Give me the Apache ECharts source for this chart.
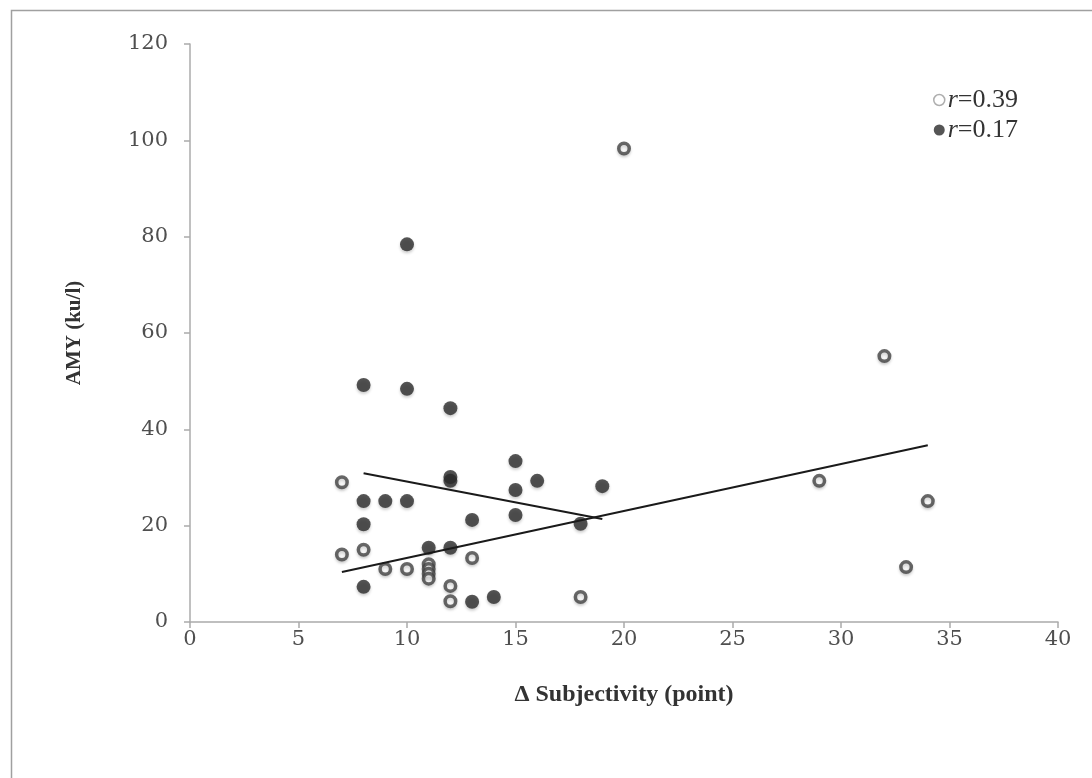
<!DOCTYPE html>
<html>
<head>
<meta charset="utf-8">
<script src="https://cdn.jsdelivr.net/npm/echarts@6/dist/echarts.min.js"></script>
<style>html,body{margin:0;padding:0;background:#fff}#c{width:1092px;height:778px}</style>
</head>
<body>
<div id="c"></div>
<script>
// Open circles group (r=0.39)
const openX = [7, 7, 8, 9, 10, 11, 11, 11, 11, 12, 12, 13, 18, 20, 29, 32, 33, 34];
const openY = [29, 14, 15, 11, 11, 12, 11, 10, 9, 7.5, 4.3, 13.3, 5.2, 98.3, 29.3, 55.2, 11.4, 25.1];
// Filled circles group (r=0.17)
const filledX = [8, 8, 8, 8, 9, 10, 10, 10, 11, 12, 12, 12, 12, 13, 13, 14, 15, 15, 15, 16, 18, 19];
const filledY = [25.1, 20.3, 7.3, 49.2, 25.1, 25.1, 78.4, 48.4, 15.4, 15.4, 44.4, 30.1, 29.3, 21.2, 4.2, 5.2, 33.4, 27.4, 22.2, 29.3, 20.4, 28.2];
// Trend lines: [x, y] endpoints
const openTrend = [[7, 10.4], [34, 36.7]];
const filledTrend = [[8, 30.9], [19, 21.4]];
const xTicks = [0, 5, 10, 15, 20, 25, 30, 35, 40];
const yTicks = [0, 20, 40, 60, 80, 100, 120];
const legendNames = ['r=0.39', 'r=0.17'];

const zip = (a, b) => a.map((v, i) => [v, b[i]]);
const chart = echarts.init(document.getElementById('c'));
const axisCol = '#ababab';
const tickFont = {fontFamily: 'DejaVu Serif', fontSize: 21, color: '#4f4f4f'};
chart.setOption({
  animation: false,
  backgroundColor: '#fff',
  graphic: [{
    type: 'rect', left: 9, top: 8, shape: {width: 1200, height: 900},
    style: {fill: 'none', stroke: '#a0a0a0', lineWidth: 1.5}, silent: true
  }],
  grid: {left: 190, right: 34, top: 44, bottom: 156},
  legend: {
    orient: 'vertical', left: 928, top: 82, itemGap: 4,
    itemWidth: 11, itemHeight: 11,
    data: [
      {name: legendNames[0], icon: 'circle', itemStyle: {color: '#fff', borderColor: '#9a9a9a', borderWidth: 1.5}},
      {name: legendNames[1], icon: 'circle', itemStyle: {color: '#2b2b2b', borderColor: '#2b2b2b', borderWidth: 0}}
    ],
    formatter: n => '{i|r}{t|' + n.slice(1) + '}',
    textStyle: {
      padding: [0, 0, 0, -2],
      rich: {
        i: {fontFamily: 'Liberation Serif', fontStyle: 'italic', fontSize: 26, color: '#333'},
        t: {fontFamily: 'Liberation Serif', fontSize: 26, color: '#333'}
      }
    }
  },
  xAxis: {
    type: 'value', min: xTicks[0], max: xTicks[xTicks.length - 1], interval: 5,
    name: 'Δ Subjectivity (point)', nameLocation: 'middle', nameGap: 61,
    nameTextStyle: {fontFamily: 'Liberation Serif', fontWeight: 'bold', fontSize: 24, color: '#333'},
    axisLine: {show: true, lineStyle: {color: axisCol, width: 1.5}},
    axisTick: {show: true, inside: false, length: 6, lineStyle: {color: axisCol, width: 1.5}},
    axisLabel: Object.assign({margin: 7}, tickFont),
    splitLine: {show: false}
  },
  yAxis: {
    type: 'value', min: yTicks[0], max: yTicks[yTicks.length - 1], interval: 20,
    name: 'AMY (ku/l)', nameLocation: 'middle', nameGap: 105, nameRotate: 90,
    nameTextStyle: {fontFamily: 'Liberation Serif', fontWeight: 'bold', fontSize: 21, color: '#333'},
    axisLine: {show: true, lineStyle: {color: axisCol, width: 1.5}},
    axisTick: {show: true, inside: false, length: 6, lineStyle: {color: axisCol, width: 1.5}},
    axisLabel: Object.assign({margin: 22}, tickFont),
    splitLine: {show: false}
  },
  series: [
    {
      name: legendNames[1], type: 'scatter', symbol: 'circle', symbolSize: 14,
      data: zip(filledX, filledY),
      itemStyle: {color: '#2b2b2b', shadowColor: 'rgba(0,0,0,0.25)', shadowBlur: 3, shadowOffsetY: 2},
      z: 3
    },
    {
      name: legendNames[0], type: 'scatter', symbol: 'circle', symbolSize: 10.5,
      data: zip(openX, openY),
      itemStyle: {color: '#fff', borderColor: '#434343', borderWidth: 3.5, shadowColor: 'rgba(0,0,0,0.2)', shadowBlur: 3, shadowOffsetY: 2},
      z: 4
    },
    {
      type: 'line', data: openTrend, symbol: 'none', silent: true,
      lineStyle: {color: '#1a1a1a', width: 2}, z: 5
    },
    {
      type: 'line', data: filledTrend, symbol: 'none', silent: true,
      lineStyle: {color: '#1a1a1a', width: 2}, z: 5
    }
  ]
});
</script>
</body>
</html>
